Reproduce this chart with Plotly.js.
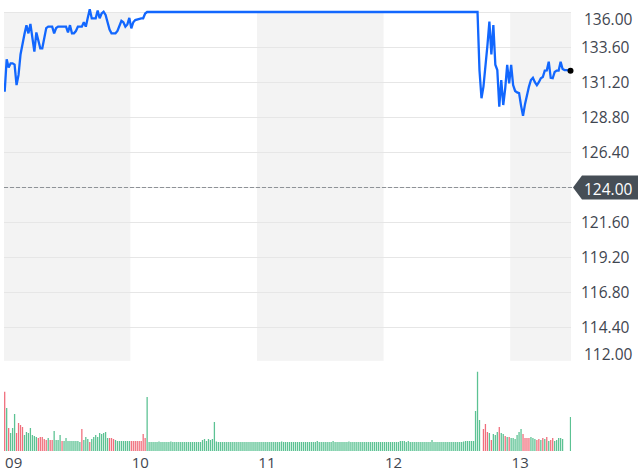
<!DOCTYPE html>
<html>
<head>
<meta charset="utf-8">
<script src="https://cdn.plot.ly/plotly-3.0.1.min.js"></script>
<style>html,body{margin:0;padding:0;background:#fff;}#chart{width:640px;height:474px;}</style>
</head>
<body>
<div id="chart"></div>
<script>
// ---- data (15-minute bars, pre+regular+post session) ----
const dayLabels = ['09', '10', '11', '12', '13'];
const dayStarts = [0, 64, 128, 192, 256];
const prevClose = 124.00;
const yTicks = [112.00, 114.40, 116.80, 119.20, 121.60, 124.00, 126.40, 128.80, 131.20, 133.60, 136.00];

const price = [
  130.55, 132.77, 132.2, 132.49, 132.49, 132.4, 131.0, 131.7, 133.1, 133.9,
  134.5, 135.1, 134.54, 135.18, 134.2, 133.29, 134.6, 134.1, 133.52, 133.52,
  134.1, 134.9, 135.0, 135.0, 135.0, 134.54, 134.9, 135.0, 135.0, 135.0,
  135.0, 135.0, 134.6, 135.1, 134.54, 134.54, 134.7, 135.0, 135.0, 135.0,
  135.3, 135.0, 135.6, 136.18, 135.57, 135.57, 135.57, 136.1, 135.57, 135.9,
  136.02, 135.8, 135.3, 134.8, 134.54, 134.54, 134.54, 134.7, 135.05, 135.4,
  135.3, 135.0, 135.15, 135.6, 134.88, 135.3, 135.45, 135.5, 135.55, 135.57,
  135.57, 135.9,
  136, 136, 136, 136, 136, 136, 136, 136, 136, 136, 136, 136,
  136, 136, 136, 136, 136, 136, 136, 136, 136, 136, 136, 136,
  136, 136, 136, 136, 136, 136, 136, 136, 136, 136, 136, 136,
  136, 136, 136, 136, 136, 136, 136, 136, 136, 136, 136, 136,
  136, 136, 136, 136, 136, 136, 136, 136, 136, 136, 136, 136,
  136, 136, 136, 136, 136, 136, 136, 136, 136, 136, 136, 136,
  136, 136, 136, 136, 136, 136, 136, 136, 136, 136, 136, 136,
  136, 136, 136, 136, 136, 136, 136, 136, 136, 136, 136, 136,
  136, 136, 136, 136, 136, 136, 136, 136, 136, 136, 136, 136,
  136, 136, 136, 136, 136, 136, 136, 136, 136, 136, 136, 136,
  136, 136, 136, 136, 136, 136, 136, 136, 136, 136, 136, 136,
  136, 136, 136, 136, 136, 136, 136, 136, 136, 136, 136, 136,
  136, 136, 136, 136, 136, 136, 136, 136, 136, 136, 136, 136,
  136, 136, 136, 136, 136, 136, 136, 136, 136, 136, 136, 136,
  132.0, 130.1, 130.9, 132.6, 133.7, 135.34, 133.1, 135.1, 132.4, 132.03,
  129.52, 131.35, 129.64, 130.78, 132.38, 131.12, 132.38, 131.0, 130.6, 130.5,
  130.45, 129.6, 128.9, 129.7, 130.35, 130.9, 131.35, 131.5, 131.2, 131.0,
  131.2, 131.47, 131.55, 131.99, 132.0, 132.6, 131.5, 131.47, 131.9, 131.99,
  131.99, 132.6, 132.1, 132.03, 132.03, 132.0, 131.99
];

const volume = [
  // 09
  590, 430, 230, 180, 230, 370, 180, 280, 260, 240,
  160, 190, 180, 230, 160, 150, 140, 130, 140, 140,
  120, 110, 130, 110, 110, 200, 110, 110, 160, 100,
  100, 130, 100, 100, 100, 100, 100, 100, 90, 220,
  110, 140, 120, 90, 120, 140, 160, 140, 180, 170,
  180, 190, 130, 130, 130, 120, 110, 100, 100, 100,
  100, 100, 100, 100,
  // 10
  100, 100, 100, 100, 100, 100, 170, 130,
  540, 90, 90, 90, 90, 90, 95, 90,
  90, 90, 90, 90, 95, 90, 90, 90, 90, 90,
  90, 90, 90, 90, 90, 90, 90, 90, 90, 90,
  110, 120, 100, 120, 110, 120, 290, 95, 90, 90,
  90, 90, 90, 90, 90, 90, 90, 90, 90, 90,
  90, 90, 90, 90, 90, 90, 90, 90,
  // 11
  90, 90, 90, 90, 90, 90, 90, 90, 90, 90,
  90, 90, 95, 90, 90, 90, 90, 90, 90, 90,
  90, 90, 90, 90, 90, 90, 90, 90, 90, 90,
  100, 90, 90, 90, 90, 90, 90, 90, 100, 90,
  90, 90, 90, 90, 90, 90, 95, 90, 90, 90,
  90, 90, 90, 90, 90, 90, 90, 90, 90, 90,
  90, 90, 90, 90,
  // 12
  90, 90, 90, 90, 90, 90, 90, 90, 100, 100,
  100, 90, 100, 90, 90, 90, 90, 90, 90, 90,
  90, 90, 90, 90, 110, 90, 90, 90, 90, 90,
  90, 90, 90, 90, 90, 90, 90, 90, 90, 90,
  95, 100, 100, 100, 100, 100, 400, 790, 310, 0,
  220, 270, 190, 180, 110, 170, 160, 190, 240, 180, 170, 150, 140, 140,
  // 13
  130, 130, 120, 160, 190, 220, 170, 130, 130, 130,
  140, 130, 120, 110, 120, 110, 130, 120, 140, 100,
  110, 130, 100, 110, 130, 130, 120, 0, 0, 0, 340
];

// 1 = up interval (green), 0 = down interval (red)
const volUp = [
  0,1,0,1,1,1,0,0,0,0, 1,1,1,1,1,1,1,0,0,0, 0,0,1,0,0,1,1,1,1,0,
  1,1,1,1,1,1,1,1,1,0, 1,1,1,0,1,1,1,1,1,1, 1,1,1,0,0,0,1,1,1,1, 1,1,1,1,
  0,0,0,0,0,0,0,0, 1,1,1,1,1,1,1,1, 1,1,1,1,1,1,1,1,1,1, 1,1,1,1,1,1,1,1,1,1,
  1,1,1,1,1,1,1,1,1,1, 1,1,1,1,1,1,1,1,1,1, 1,1,1,1,1,1,1,1,
  1,1,1,1,1,1,1,1,1,1, 1,1,1,1,1,1,1,1,1,1, 1,1,1,1,1,1,1,1,1,1,
  1,1,1,1,1,1,1,1,1,1, 1,1,1,1,1,1,1,1,1,1, 1,1,1,1,1,1,1,1,1,1, 1,1,1,1,
  1,1,1,1,1,1,1,1,1,1, 1,1,1,1,1,1,1,1,1,1, 1,1,1,1,1,1,1,1,1,1,
  1,1,1,1,1,1,1,1,1,1, 1,1,1,1,1,1,1,1,1,1,
  0,0,0,1,0,1,1,1,0,1,1,0,1,0,
  1,1,1,1,1,1,0,0,0,0, 1,1,1,0,0,1,0,1,0,1, 0,0,1,1,1,1,1,1,1,1,1
];

// ---- styling ----
const FONT = 'Open Sans, DejaVu Sans, sans-serif';
const TEXT = '#3f4650';
const GREEN = '#5cc293';
const RED = '#f06e7c';
const SHADE = '#f3f3f3';
const LINE = '#1267fe';
const YFS = 15.5;

const idx = price.map((_, i) => i);
const last = price.length - 1;
const xRange = [-0.35, 286.25];
const yRange = [105.983, 136.821];
const paperY = v => (v - yRange[0]) / (yRange[1] - yRange[0]);

const traces = [
  {
    type: 'bar', x: idx, y: volume, yaxis: 'y2',
    marker: {color: volUp.map(u => u ? GREEN : RED), line: {width: 0}},
    hoverinfo: 'skip'
  },
  {
    type: 'scatter', mode: 'lines', x: idx, y: price,
    line: {color: LINE, width: 2.3}, hoverinfo: 'skip'
  },
  {
    type: 'scatter', mode: 'markers', x: [idx[last]], y: [price[last]],
    marker: {color: '#000', size: 6}, hoverinfo: 'skip', cliponaxis: false
  }
];

// alternating day shading (09, 11, 13)
const shapes = [];
dayStarts.forEach((s, k) => {
  if (k % 2 === 0) {
    const x0 = Math.max(s - 0.5, xRange[0]);
    const x1 = k + 1 < dayStarts.length ? dayStarts[k + 1] - 0.5 : xRange[1];
    shapes.push({type: 'rect', xref: 'x', yref: 'paper', x0: x0, x1: x1,
      y0: 0, y1: paperY(yTicks[yTicks.length - 1]), fillcolor: SHADE, line: {width: 0}, layer: 'below'});
  }
});
// previous close dashed line
shapes.push({type: 'line', xref: 'paper', yref: 'paper', x0: 0, x1: 1.005,
  y0: paperY(prevClose), y1: paperY(prevClose), line: {color: '#8e9297', width: 1, dash: '4px,2px'}});
// tag for previous close
shapes.push({type: 'path', xref: 'paper', yref: 'paper', xsizemode: 'pixel', ysizemode: 'pixel',
  xanchor: 1, yanchor: paperY(prevClose),
  path: 'M 2 0 L 11 12 L 67 12 L 67 -12 L 11 -12 Z', fillcolor: '#464e56', line: {width: 0}});

const hiddenTicks = [yTicks[0], prevClose, yTicks[yTicks.length - 1]];
const annotations = [
  {xref: 'paper', yref: 'y', x: 1, y: yTicks[yTicks.length - 1], xanchor: 'left', yanchor: 'middle',
   xshift: 11, yshift: -7, showarrow: false, text: yTicks[yTicks.length - 1].toFixed(2),
   font: {family: FONT, size: YFS, color: TEXT}},
  {xref: 'paper', yref: 'y', x: 1, y: yTicks[0], xanchor: 'left', yanchor: 'middle',
   xshift: 11, yshift: 9, showarrow: false, text: yTicks[0].toFixed(2),
   font: {family: FONT, size: YFS, color: TEXT}},
  {xref: 'paper', yref: 'y', x: 1, y: prevClose, xanchor: 'left', yanchor: 'middle',
   xshift: 11, yshift: -1, showarrow: false, text: prevClose.toFixed(2),
   font: {family: FONT, size: YFS, color: '#ffffff'}}
];

const layout = {
  width: 640, height: 474,
  margin: {l: 4, r: 69, t: 0, b: 23, pad: 0},
  paper_bgcolor: '#fff', plot_bgcolor: '#fff',
  showlegend: false, bargap: 0.35,
  xaxis: {
    range: xRange, tickvals: dayStarts, ticktext: dayLabels,
    ticklabelshift: 9, ticklabelstandoff: 1, showgrid: false, zeroline: false, showline: false, ticks: '',
    tickfont: {family: FONT, size: 15, color: TEXT}, fixedrange: true
  },
  yaxis: {
    domain: [0, 1], range: yRange, side: 'right',
    tickvals: yTicks,
    ticktext: yTicks.map(v => hiddenTicks.includes(v) ? '' : v.toFixed(2)),
    gridcolor: '#e6e6e6', gridwidth: 1, zeroline: false, showline: false, ticks: '',
    ticklabelstandoff: 9,
    tickfont: {family: FONT, size: YFS, color: TEXT}, fixedrange: true
  },
  yaxis2: {
    domain: [0, 0.2], range: [0, 900], showgrid: false, zeroline: false,
    showticklabels: false, showline: false, ticks: '', fixedrange: true
  },
  shapes: shapes,
  annotations: annotations
};

Plotly.newPlot('chart', traces, layout, {displayModeBar: false, staticPlot: true});
</script>
</body>
</html>
